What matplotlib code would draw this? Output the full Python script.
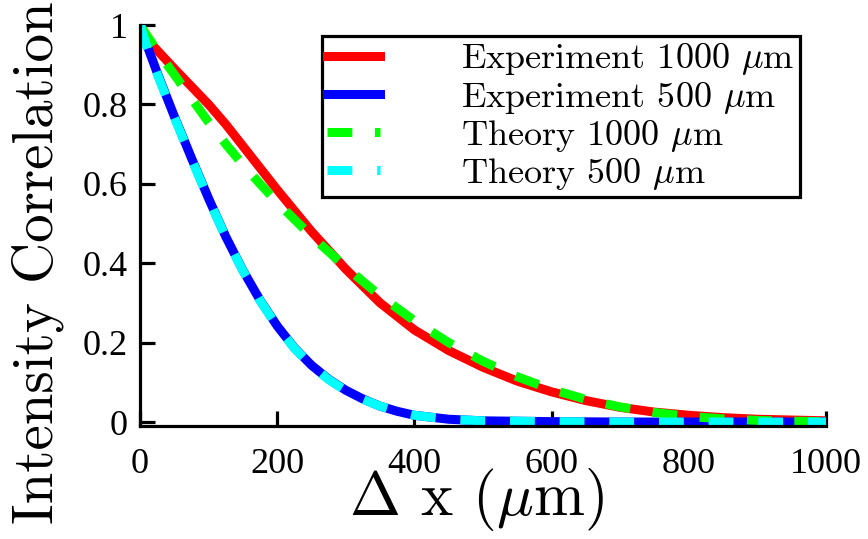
import matplotlib
matplotlib.use("Agg")
import matplotlib.pyplot as plt

# values
exp1000_x = [0, 15, 50, 100, 125, 150, 175, 200, 250, 300, 350, 400, 450, 500, 550,
             600, 650, 700, 750, 800, 850, 900, 950, 1000]
exp1000_y = [1.0, 0.955, 0.89, 0.80, 0.75, 0.695, 0.64, 0.585, 0.48, 0.385, 0.30,
             0.232, 0.18, 0.138, 0.103, 0.076, 0.054, 0.037, 0.025, 0.017, 0.011,
             0.007, 0.005, 0.003]

exp500_x = [0, 10, 25, 50, 75, 100, 125, 150, 175, 200, 225, 250, 275, 300, 325,
            350, 375, 400, 450, 500, 600, 700, 800, 900, 1000]
exp500_y = [1.0, 0.95, 0.88, 0.77, 0.665, 0.563, 0.467, 0.382, 0.307, 0.242, 0.187,
            0.143, 0.108, 0.08, 0.058, 0.04, 0.027, 0.017, 0.007, 0.003, 0.001,
            0.0, 0.0, 0.0, 0.0]

th1000_x = [0, 25, 50, 75, 100, 125, 150, 175, 200, 250, 300, 350, 400, 450, 500,
            550, 600, 650, 700, 750, 800, 850, 900, 950, 1000]
th1000_y = [1.0, 0.935, 0.875, 0.815, 0.755, 0.70, 0.648, 0.60, 0.553, 0.468, 0.39,
            0.318, 0.255, 0.20, 0.153, 0.114, 0.082, 0.057, 0.038, 0.024, 0.014,
            0.008, 0.004, 0.002, 0.001]

th500_x = [0, 10, 25, 50, 75, 100, 125, 150, 175, 200, 225, 250, 275, 300, 325,
           350, 375, 400, 450, 500, 600, 700, 800, 900, 1000]
th500_y = [1.0, 0.945, 0.877, 0.768, 0.663, 0.561, 0.466, 0.381, 0.306, 0.241, 0.186,
           0.142, 0.107, 0.079, 0.057, 0.04, 0.027, 0.017, 0.007, 0.003, 0.001,
           0.0, 0.0, 0.0, 0.0]

x_ticks = [0, 200, 400, 600, 800, 1000]
x_tick_labels = ['0', '200', '400', '600', '800', '1000']
y_ticks = [0, 0.2, 0.4, 0.6, 0.8, 1.0]
y_tick_labels = ['0', '0.2', '0.4', '0.6', '0.8', '1']

labels = ['Experiment 1000 $\\mu$m', 'Experiment 500 $\\mu$m',
          'Theory 1000 $\\mu$m', 'Theory 500 $\\mu$m']

plt.rcParams['mathtext.fontset'] = 'cm'
plt.rcParams['axes.unicode_minus'] = False

fig = plt.figure(figsize=(8.68, 5.39), dpi=100)
ax = fig.add_axes([140 / 868, 113 / 539, 686 / 868, 401 / 539])

lw = 6.5
ax.plot(exp1000_x, exp1000_y, color='#ff0000', lw=lw, label=labels[0])
ax.plot(exp500_x, exp500_y, color='#0000ff', lw=lw, label=labels[1])
ax.plot(th1000_x, th1000_y, color='#00ff00', lw=lw, dashes=(2.75, 2.5), label=labels[2])
ax.plot(th500_x, th500_y, color='#00ffff', lw=lw, dashes=(2.75, 2.75), label=labels[3])

ax.set_xlim(0, 1000)
ax.set_ylim(-0.01, 1.0)

for side in ['top', 'right']:
    ax.spines[side].set_visible(False)
for side in ['left', 'bottom']:
    ax.spines[side].set_linewidth(2.3)

ax.set_xticks(x_ticks)
ax.set_xticklabels(x_tick_labels, fontfamily='Liberation Serif', fontsize=26)
ax.set_yticks(y_ticks)
ax.set_yticklabels(y_tick_labels, fontfamily='Liberation Serif', fontsize=26)
ax.tick_params(direction='in', length=11, width=2.3, color='black')
ax.tick_params(axis='x', pad=16)
ax.tick_params(axis='y', pad=9)

ax.set_xlabel('$\\Delta$ x ($\\mu$m)', fontfamily='cmr10', fontsize=44, va='baseline')
ax.xaxis.set_label_coords(0.491, -0.222)
ax.set_ylabel('Intensity Correlation', fontfamily='cmr10', fontsize=41, va='baseline')
ax.yaxis.set_label_coords(-0.128, 0.4065)

leg = ax.legend(loc='upper right', bbox_to_anchor=(0.962, 0.9726), borderaxespad=0,
                prop={'family': 'cmr10', 'size': 26}, handlelength=1.45,
                handletextpad=2.25, borderpad=0.15, labelspacing=0.06,
                fancybox=False, framealpha=1)
leg.get_frame().set_edgecolor('black')
leg.get_frame().set_linewidth(2.3)

fig.savefig('out.png', dpi=100)
